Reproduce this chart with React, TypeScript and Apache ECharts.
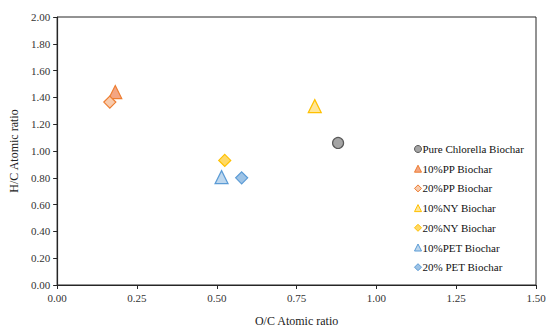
import React, { useEffect, useRef } from "react";
import * as echarts from "echarts";

const seriesNames = [
  "Pure Chlorella Biochar",
  "10%PP Biochar",
  "20%PP Biochar",
  "10%NY Biochar",
  "20%NY Biochar",
  "10%PET Biochar",
  "20% PET Biochar",
];
const ocValues = [0.88, 0.182, 0.165, 0.807, 0.525, 0.515, 0.578];
const hcValues = [1.06, 1.44, 1.365, 1.335, 0.93, 0.805, 0.8];
const symbols = ["circle", "triangle", "diamond", "triangle", "diamond", "triangle", "diamond"];
const fills = ["#A5A5A5", "#F4A582", "#F8CBAD", "#FFE699", "#FFD966", "#BDD7EE", "#9DC3E6"];
const strokes = ["#595959", "#ED7D31", "#ED7D31", "#FFC000", "#FFC000", "#5B9BD5", "#5B9BD5"];
const symbolSizes = [11, 13, 12, 13, 12, 13, 12];

const FONT = "Times New Roman, Liberation Serif, serif";

export default function App() {
  const ref = useRef<HTMLDivElement>(null);
  useEffect(() => {
    if (!ref.current) return;
    const chart = echarts.init(ref.current, undefined, { renderer: "svg" });
    chart.setOption({
      animation: false,
      backgroundColor: "#fff",
      textStyle: { fontFamily: FONT },
      grid: {
        left: 53,
        right: 14,
        top: 17,
        bottom: 47,
        show: true,
        borderColor: "#262626",
        borderWidth: 1,
      },
      legend: {
        orient: "vertical",
        left: 409,
        top: 138,
        itemWidth: 7,
        itemHeight: 7,
        itemGap: 7.7,
        itemStyle: { borderWidth: 1 },
        textStyle: { fontFamily: FONT, fontSize: 11, color: "#111", padding: [0, 0, 0, -4], lineHeight: 12 },
        data: seriesNames.map((n) => ({ name: n })),
      },
      xAxis: {
        type: "value",
        min: 0,
        max: 1.5,
        interval: 0.25,
        name: "O/C Atomic ratio",
        nameLocation: "middle",
        nameGap: 30,
        nameTextStyle: { fontFamily: FONT, fontSize: 12, color: "#222" },
        axisLine: { show: true, lineStyle: { color: "#262626", width: 1.2 } },
        axisTick: { show: true, inside: false, length: 4, lineStyle: { color: "#262626" } },
        axisLabel: {
          fontFamily: FONT,
          fontSize: 11,
          color: "#333",
          margin: 7,
          formatter: (v: number) => v.toFixed(2),
        },
        splitLine: { show: false },
      },
      yAxis: {
        type: "value",
        min: 0,
        max: 2,
        interval: 0.2,
        name: "H/C Atomic ratio",
        nameLocation: "middle",
        nameGap: 30,
        nameTextStyle: { fontFamily: FONT, fontSize: 12, color: "#222" },
        axisLine: { show: true, lineStyle: { color: "#262626", width: 1.2 } },
        axisTick: { show: true, inside: false, length: 4, lineStyle: { color: "#262626" } },
        axisLabel: {
          fontFamily: FONT,
          fontSize: 11,
          color: "#333",
          margin: 7,
          formatter: (v: number) => v.toFixed(2),
        },
        splitLine: { show: false },
      },
      series: seriesNames.map((name, i) => ({
        name,
        type: "scatter",
        symbol: symbols[i],
        symbolSize: symbolSizes[i],
        data: [[ocValues[i], hcValues[i]]],
        itemStyle: { color: fills[i], borderColor: strokes[i], borderWidth: 1.2, opacity: 1 },
      })),
    });
    return () => chart.dispose();
  }, []);
  return <div ref={ref} style={{ width: 550, height: 332, position: "absolute", left: 0, top: 0 }} />;
}
